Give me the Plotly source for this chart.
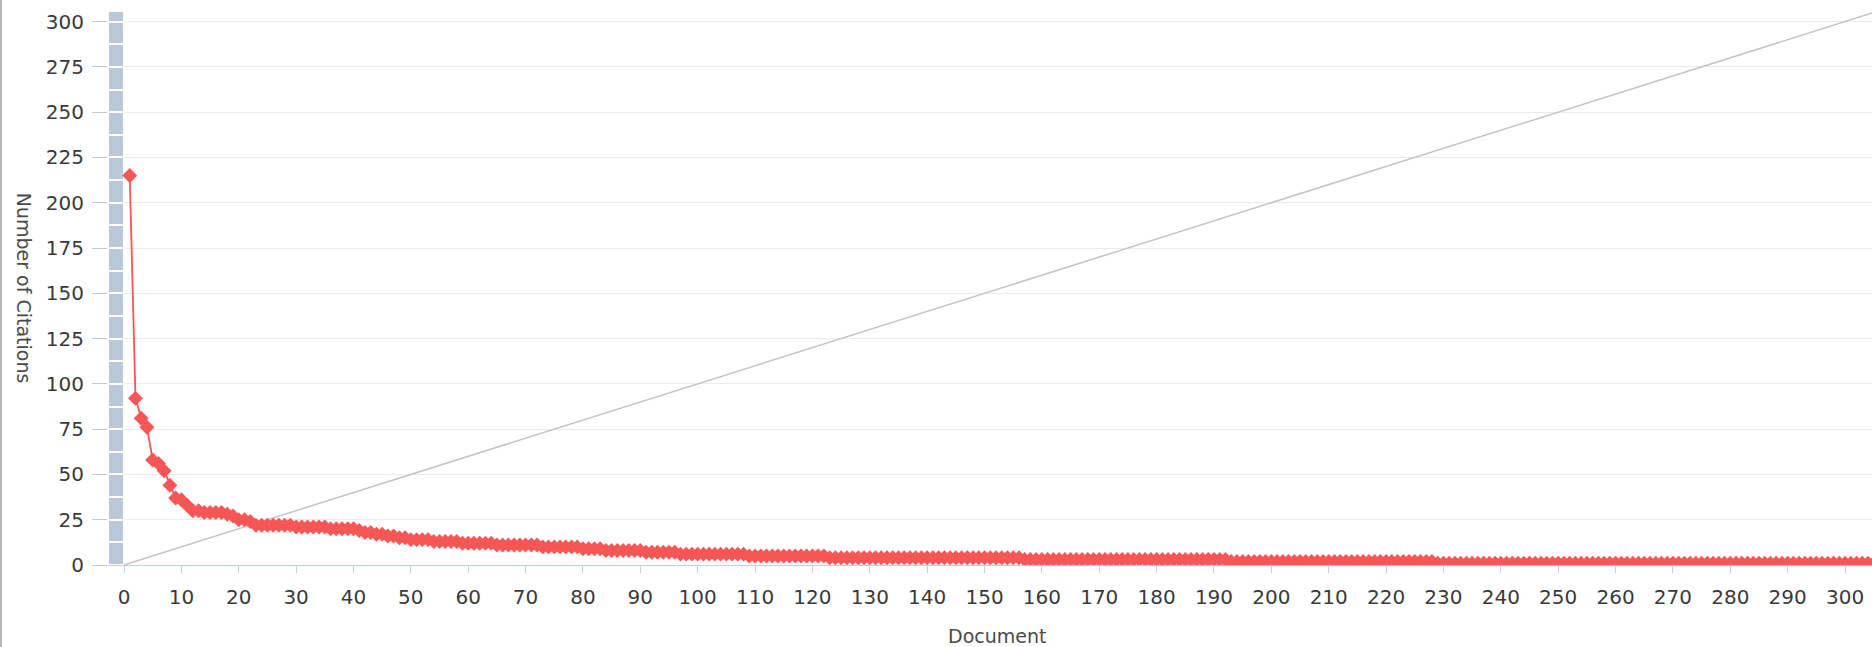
import plotly.graph_objects as go

# ---- data ----
# citations of the first 23 documents, ranked
head_citations = [215, 92, 81, 76, 58, 56, 52, 44, 37, 36, 33, 30, 30, 29, 29, 29, 29, 28, 27, 25, 25, 24, 22]
# remaining documents as (citation level, number of documents) runs
tail_levels = [22, 21, 20, 19, 18, 17, 16, 15, 14, 13, 12, 11, 10, 9, 8, 7, 6, 5, 4, 3, 2, 1]
tail_counts = [6, 6, 5, 1, 2, 2, 2, 2, 4, 5, 6, 8, 7, 4, 7, 6, 12, 14, 34, 36, 36, 77]

citations = list(head_citations)
for lvl, cnt in zip(tail_levels, tail_counts):
    citations += [lvl] * cnt
documents = list(range(1, len(citations) + 1))

# h-index reference line y = x
diag_x = [0, 320]
diag_y = [0, 320]

# left band made of 12.5-citation blocks
band_block = 12.5
band_blocks = 26

x_ticks = list(range(0, 301, 10))
y_ticks = list(range(0, 301, 25))

X_MIN, X_MAX = -2.79, 304.7
Y_MIN, Y_MAX = 0, 305.3

RED = "#f65656"
FONT = "DejaVu Sans"

fig = go.Figure()

fig.add_trace(go.Bar(
    x=[X_MIN / 2] * band_blocks,
    y=[band_block] * band_blocks,
    width=-X_MIN,
    marker=dict(color="#bac9d9", line=dict(color="white", width=2)),
    hoverinfo="skip",
    showlegend=False,
))

fig.add_trace(go.Scatter(
    x=diag_x, y=diag_y, mode="lines",
    line=dict(color="#c4c4c4", width=1.5),
    hoverinfo="skip", showlegend=False,
))

fig.add_trace(go.Scatter(
    x=documents, y=citations, mode="lines+markers",
    line=dict(color=RED, width=1.8),
    marker=dict(symbol="diamond", size=11.5, color=RED, line=dict(width=0)),
    name="Citations", showlegend=False, cliponaxis=True,
))

fig.update_layout(
    width=1872, height=647,
    margin=dict(l=108, r=0, t=12, b=82),
    paper_bgcolor="white", plot_bgcolor="white",
    barmode="stack", bargap=0,
    font=dict(family=FONT, size=20, color="#3a3a3a"),
    xaxis=dict(
        range=[X_MIN, X_MAX], tickvals=x_ticks,
        showgrid=False, zeroline=False,
        showline=True, linecolor="#c0d0e0", linewidth=1,
        ticks="outside", ticklen=7, tickcolor="#c0d0e0", tickwidth=1,
        ticklabelstandoff=7,
        tickfont=dict(family=FONT, size=20, color="#3a3a3a"),
    ),
    yaxis=dict(
        range=[Y_MIN, Y_MAX], tickvals=y_ticks,
        showgrid=True, gridcolor="#ebebeb", gridwidth=1,
        zeroline=False, showline=False,
        ticks="outside", ticklen=15, tickcolor="#c8c8c8", tickwidth=1,
        ticklabelstandoff=4,
        tickfont=dict(family=FONT, size=20, color="#3a3a3a"),
    ),
    annotations=[
        dict(text="Number of Citations", textangle=90,
             xref="paper", yref="paper", x=-0.0475, y=0.501,
             xanchor="center", yanchor="middle", showarrow=False,
             font=dict(family=FONT, size=19, color="#4a4a4a")),
        dict(text="Document",
             xref="paper", yref="paper", x=0.504, y=-0.1284,
             xanchor="center", yanchor="middle", showarrow=False,
             font=dict(family=FONT, size=19, color="#4a4a4a")),
    ],
    shapes=[
        dict(type="line", xref="paper", yref="paper",
             x0=-0.0607, x1=-0.0607, y0=-0.16, y1=1.03,
             line=dict(color="#b4b4b4", width=2)),
    ],
)

fig.write_html("out.html", config={"displayModeBar": False},
               post_script="document.body.style.margin='0';")
